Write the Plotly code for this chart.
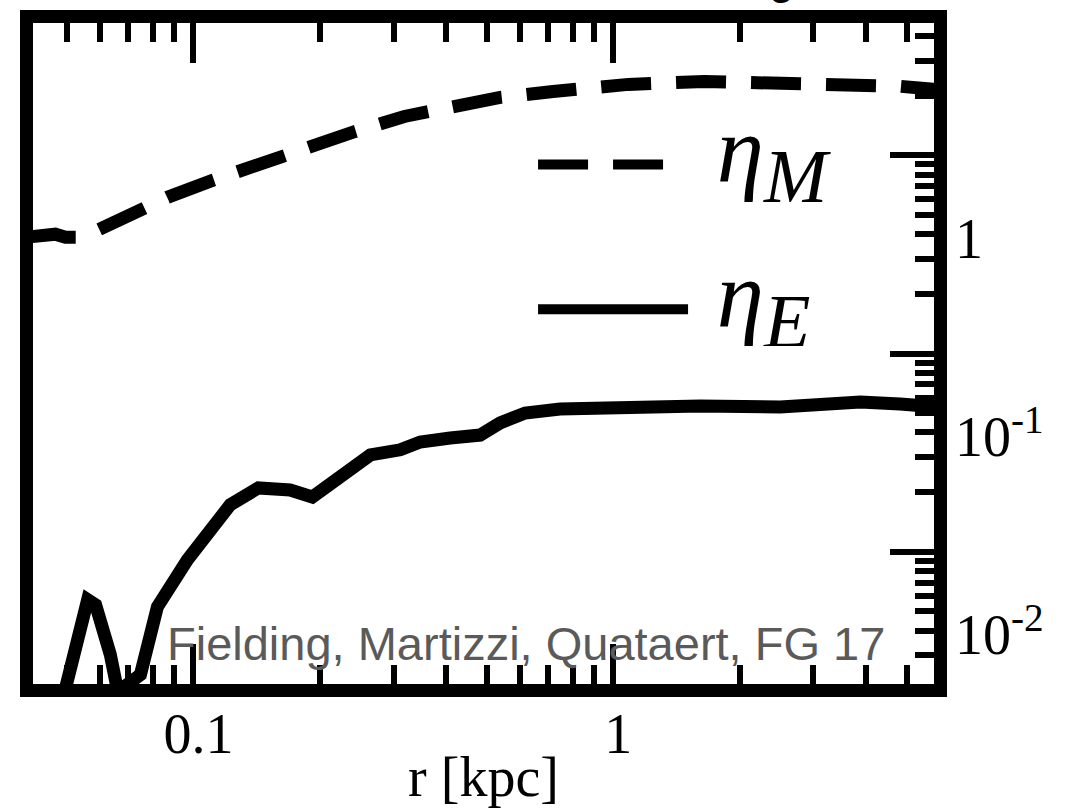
import math
import plotly.graph_objects as go

# ---- data ----
# radius [kpc]
R_M = [0.040, 0.0444, 0.0469, 0.0496, 0.0532, 0.059, 0.067, 0.076, 0.0867, 0.111,
       0.1445, 0.190, 0.243, 0.318, 0.421, 0.538, 0.719, 1.086, 1.647, 2.50,
       3.79, 4.82, 5.85, 6.0]
ETA_M = [0.386, 0.391, 0.400, 0.386, 0.386, 0.419, 0.476, 0.541, 0.614, 0.748,
         0.912, 1.110, 1.32, 1.571, 1.765, 1.96, 2.10, 2.28, 2.36, 2.33,
         2.28, 2.23, 2.15, 2.14]

R_E = [0.047, 0.0496, 0.053, 0.056, 0.0585, 0.0601, 0.0634, 0.0659, 0.0681, 0.0748,
       0.0821, 0.0968, 0.104, 0.1224, 0.1428, 0.170, 0.192, 0.224, 0.264, 0.311,
       0.347, 0.409, 0.482, 0.538, 0.617, 0.747, 1.04, 1.61, 2.50, 3.11,
       3.88, 4.82, 6.01]
ETA_E = [0.0013, 0.00214, 0.0036, 0.00573, 0.0054, 0.00454, 0.00303, 0.00202, 0.00207, 0.0024,
         0.00528, 0.00912, 0.0112, 0.01726, 0.021, 0.0205, 0.0189, 0.0236, 0.0308, 0.0327,
         0.0358, 0.0375, 0.0388, 0.0447, 0.0501, 0.0525, 0.0537, 0.0544, 0.0537, 0.0557,
         0.057, 0.0557, 0.0537]

X_RANGE = [0.04149, 5.81]
Y_RANGE = [0.002153, 4.652]

X_MAJOR = [0.1, 1]
X_MAJOR_TEXT = ["0.1", "1"]
X_MINOR = [0.05, 0.06, 0.07, 0.08, 0.09, 0.2, 0.3, 0.4, 0.5, 0.6, 0.7, 0.8, 0.9, 2, 3, 4, 5]

Y_MAJOR = [0.01, 0.1, 1]
Y_MINOR = [0.003, 0.004, 0.005, 0.006, 0.007, 0.008, 0.009,
           0.02, 0.03, 0.04, 0.05, 0.06, 0.07, 0.08, 0.09,
           0.2, 0.3, 0.4, 0.5, 0.6, 0.7, 0.8, 0.9, 2, 3, 4]
Y_LABEL_POS = [0.382, 0.0382, 0.00382]
Y_LABEL_TEXT = ["1", "10<sup>-1</sup>", "10<sup>-2</sup>"]

LEG_M = ("<span style='font-size:95px'>\u00a0<i>η</i><sub>"
         "<span style='font-size:76px'><i>M</i></span></sub></span>")
LEG_E = ("<span style='font-size:95px'>\u00a0<i>η</i><sub>"
         "<span style='font-size:76px'><i>E</i></span></sub></span>")
CREDIT = "Fielding, Martizzi, Quataert, FG 17"
X_TITLE = "r [kpc]"
TOP_FRAGMENT = "g"

lx = [math.log10(v) for v in X_RANGE]
ly = [math.log10(v) for v in Y_RANGE]

SERIF = "Liberation Serif"

fig = go.Figure()
fig.add_trace(go.Scatter(x=R_M, y=ETA_M, mode="lines", name=LEG_M, legendgroup="m",
                         line=dict(color="black", width=13, dash="50px,25px")))
fig.add_trace(go.Scatter(x=R_E, y=ETA_E, mode="lines", name=LEG_E, legendgroup="e",
                         yaxis="y2", line=dict(color="black", width=13)))

fig.update_layout(
    width=1077, height=808,
    margin=dict(l=32.5, r=143, t=22.5, b=123.5, pad=0, autoexpand=False),
    paper_bgcolor="white", plot_bgcolor="white",
    showlegend=True,
    legend=dict(x=0.555, y=0.841, xanchor="left", yanchor="top",
                font=dict(family=SERIF, size=46, color="black"),
                bgcolor="rgba(0,0,0,0)", itemwidth=150, tracegroupgap=82),
    xaxis=dict(type="log", range=lx, showgrid=False, zeroline=False, automargin=False,
               showline=True, linecolor="black", linewidth=12.5, mirror="ticks",
               ticks="inside", ticklen=40, tickwidth=5.5, tickcolor="black",
               tickvals=X_MAJOR, ticktext=X_MAJOR_TEXT, ticklabelstandoff=-11,
               ticklabelshift=5,
               tickfont=dict(family=SERIF, size=56, color="black"),
               minor=dict(ticks="inside", ticklen=19, tickwidth=5.5, tickcolor="black",
                          tickvals=X_MINOR, showgrid=False),
               title=dict(text=X_TITLE, font=dict(family=SERIF, size=56, color="black"),
                          standoff=0)),
    yaxis=dict(type="log", range=ly, showgrid=False, zeroline=False, side="right",
               automargin=False,
               showline=True, linecolor="black", linewidth=12.5, mirror=True,
               ticks="inside", ticklen=44, tickwidth=5.5, tickcolor="black",
               tickvals=Y_MAJOR, showticklabels=False,
               minor=dict(ticks="inside", ticklen=19, tickwidth=5.5, tickcolor="black",
                          tickvals=Y_MINOR, showgrid=False)),
    yaxis2=dict(type="log", range=ly, overlaying="y", side="right", anchor="x",
                automargin=False,
                showgrid=False, zeroline=False, showline=False, ticks="",
                tickvals=Y_LABEL_POS, ticktext=Y_LABEL_TEXT, ticklabelstandoff=20,
                tickfont=dict(family=SERIF, size=56, color="black")),
)

fig.add_annotation(text=CREDIT, xref="paper", yref="paper", x=0.147, y=0.018,
                   xanchor="left", yanchor="bottom", showarrow=False,
                   font=dict(family="Liberation Sans", size=47, color="#5a5a5a"))

fig.add_annotation(text=TOP_FRAGMENT, xref="paper", yref="paper", x=0.831, y=1.025,
                   xanchor="center", yanchor="bottom", showarrow=False,
                   font=dict(family="Liberation Sans", size=45, color="black"))

fig.write_html("out.html")
